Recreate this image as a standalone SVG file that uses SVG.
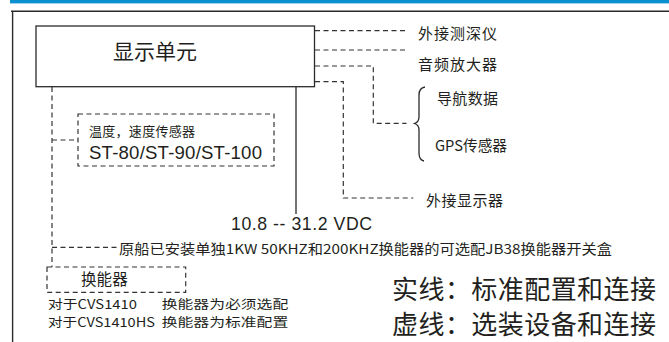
<svg xmlns="http://www.w3.org/2000/svg" width="669" height="342" viewBox="0 0 669 342">
<style>
.frame{stroke:#2b2b2b;stroke-width:1.4;fill:none}
.solid{stroke:#2b2b2b;stroke-width:1.3;fill:none}
.dash{stroke:#333;stroke-width:1.2;fill:none;stroke-dasharray:5 3.5}
.box{fill:#fff;stroke:#2b2b2b;stroke-width:1.3}
.dbox{fill:none;stroke:#333;stroke-width:1.2;stroke-dasharray:5 3.5}
.cjk{font-family:"Noto Sans CJK SC","Noto Sans",sans-serif;fill:#231f20}
.lat{font-family:"Liberation Sans",Arial,sans-serif;fill:#231f20}
</style>
<rect x="10" y="0" width="659" height="3.4" fill="#0a8fd0"/>
<line class="frame" x1="11" y1="11.3" x2="669" y2="11.3"/>
<line class="frame" x1="12.6" y1="11" x2="12.6" y2="342"/>

<g id="connectors">
<line class="solid" x1="296" y1="87" x2="296" y2="214"/>
<path class="dash" d="M315,30.7 H406"/>
<path class="dash" d="M315,50 H406"/>
<path class="dash" d="M315,66 H373.3 V123.3 H406.5"/>
<path class="dash" d="M315,81.7 H343.3 V198 H413.3"/>
<path class="dash" d="M52,87 V267"/>
<path class="dash" d="M52,140 H78"/>
<path class="dash" d="M52,247.3 H117"/>
<path class="solid" d="M425,87 Q419,88 419,95 L419,117 Q419,122 414.5,123.5 Q419,125 419,130 L419,153 Q419,160 424,161"/>
</g>

<g id="display-unit">
<rect class="box" x="36" y="26" width="278.5" height="60.7"/>
<text class="cjk" x="113" y="59.2" font-size="21" textLength="84" lengthAdjust="spacing">显示单元</text>
</g>

<g id="depth-sounder"><text class="cjk" x="418" y="39" font-size="15" textLength="79" lengthAdjust="spacing">外接测深仪</text></g>
<g id="audio-amp"><text class="cjk" x="418" y="69.7" font-size="15" textLength="79" lengthAdjust="spacing">音频放大器</text></g>
<g id="nav-data"><text class="cjk" x="437" y="104.2" font-size="15" textLength="61" lengthAdjust="spacing">导航数据</text></g>
<g id="gps"><text class="cjk" x="435" y="150.7" font-size="15" textLength="72" lengthAdjust="spacingAndGlyphs">GPS传感器</text></g>
<g id="ext-display"><text class="cjk" x="426" y="205.7" font-size="15" textLength="77" lengthAdjust="spacing">外接显示器</text></g>

<g id="temp-speed-sensor">
<rect class="dbox" x="78" y="114" width="196" height="52"/>
<text class="cjk" x="89" y="135.5" font-size="13" textLength="106" lengthAdjust="spacing">温度，速度传感器</text>
<text class="lat" x="89" y="159.3" font-size="18.6" textLength="173" lengthAdjust="spacing">ST-80/ST-90/ST-100</text>
</g>

<g id="power"><text class="lat" x="231" y="230" font-size="17.7" textLength="141" lengthAdjust="spacing">10.8 -- 31.2 VDC</text></g>

<g id="jb38"><text class="cjk" x="119" y="253.6" font-size="13.5" textLength="493" lengthAdjust="spacingAndGlyphs">原船已安装单独1KW 50KHZ和200KHZ换能器的可选配JB38换能器开关盒</text></g>

<g id="transducer">
<rect class="dbox" x="47" y="267" width="138.7" height="25.3"/>
<text class="cjk" x="81" y="285.1" font-size="15.5" textLength="46.7" lengthAdjust="spacing">换能器</text>
</g>

<g id="notes">
<text class="cjk" x="48" y="308.5" font-size="12.5" textLength="89" lengthAdjust="spacingAndGlyphs">对于CVS1410</text>
<text class="cjk" x="161.7" y="308.5" font-size="12.5" textLength="126.6" lengthAdjust="spacingAndGlyphs">换能器为必须选配</text>
<text class="cjk" x="48" y="327" font-size="12.5" textLength="107" lengthAdjust="spacingAndGlyphs">对于CVS1410HS</text>
<text class="cjk" x="161.7" y="327" font-size="12.5" textLength="126.6" lengthAdjust="spacingAndGlyphs">换能器为标准配置</text>
</g>

<g id="legend">
<text class="cjk" x="392" y="298.9" font-size="26" textLength="264" lengthAdjust="spacing">实线：标准配置和连接</text>
<text class="cjk" x="392" y="333.9" font-size="26" textLength="264" lengthAdjust="spacing">虚线：选装设备和连接</text>
</g>
</svg>
